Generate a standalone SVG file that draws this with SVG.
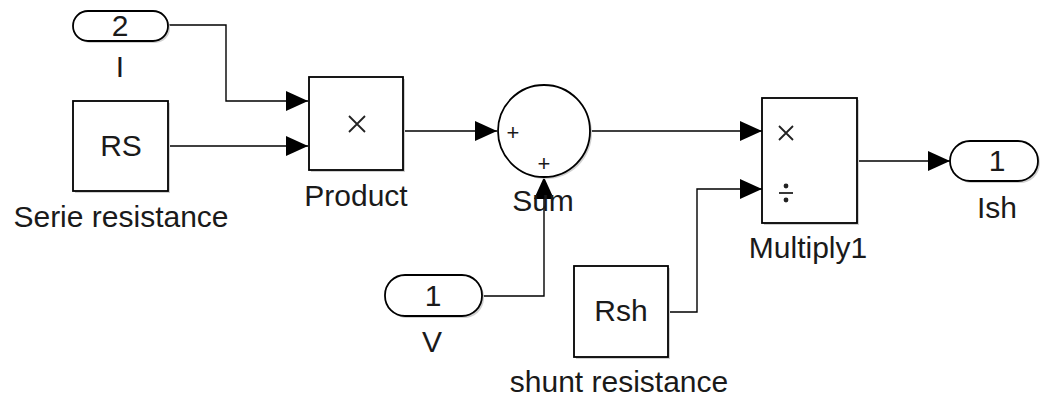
<svg xmlns="http://www.w3.org/2000/svg" width="1041" height="398" viewBox="0 0 1041 398">
<style>
.blk{fill:#fff;stroke:#000;stroke-width:1.8}
.sh{fill:#d0d0d0}
.ln{fill:none;stroke:#000;stroke-width:1.4}
.t{font-family:"Liberation Sans",Arial,sans-serif;font-size:30px;fill:#1a1a1a;text-anchor:middle}
.s{font-family:"Liberation Sans",Arial,sans-serif;font-size:22px;fill:#1a1a1a;text-anchor:middle}
.ic{fill:none;stroke:#222;stroke-width:1.8}
</style>
<defs>
<marker id="ah" markerWidth="22" markerHeight="20" refX="22" refY="10" orient="auto" markerUnits="userSpaceOnUse">
<path d="M0,0 L22,10 L0,20 Z" fill="#000"/>
</marker>
</defs>
<rect width="1041" height="398" fill="#fff"/>
<g id="connectors">
<polyline class="ln" points="168,25 226,25 226,101 308,101" marker-end="url(#ah)"/>
<polyline class="ln" points="168,146 308,146" marker-end="url(#ah)"/>
<polyline class="ln" points="403,131 497,131" marker-end="url(#ah)"/>
<polyline class="ln" points="483,296 544,296 544,177" marker-end="url(#ah)"/>
<polyline class="ln" points="591,131 762,131" marker-end="url(#ah)"/>
<polyline class="ln" points="668,312 697,312 697,189 762,189" marker-end="url(#ah)"/>
<polyline class="ln" points="857,161 950,161" marker-end="url(#ah)"/>
</g>
<g id="in2">
<rect class="sh" x="75" y="13" width="95" height="30" rx="15"/>
<rect class="blk" x="73" y="11" width="95" height="30" rx="15"/>
<text class="t" x="120" y="36">2</text>
<text class="t" x="120" y="77">I</text>
</g>
<g id="rs">
<rect class="sh" x="75" y="103" width="95" height="90"/>
<rect class="blk" x="73" y="101" width="95" height="90"/>
<text class="t" x="121" y="156">RS</text>
<text class="t" x="121" y="227">Serie resistance</text>
</g>
<g id="product">
<rect class="sh" x="311" y="79" width="94" height="93"/>
<rect class="blk" x="309" y="77" width="94" height="93"/>
<path class="ic" d="M349,116 L365,132 M365,116 L349,132"/>
<text class="t" x="356" y="206">Product</text>
</g>
<g id="sum">
<circle class="sh" cx="546" cy="133" r="46"/>
<circle class="blk" cx="544" cy="131" r="46"/>
<text class="s" x="513" y="140">+</text>
<text class="s" x="544" y="171">+</text>
<text class="t" x="543" y="211">Sum</text>
</g>
<g id="v">
<rect class="sh" x="387" y="277" width="97" height="41" rx="20"/>
<rect class="blk" x="385" y="275" width="97" height="41" rx="20"/>
<text class="t" x="433" y="306">1</text>
<text class="t" x="432" y="352">V</text>
</g>
<g id="rsh">
<rect class="sh" x="576" y="268" width="94" height="91"/>
<rect class="blk" x="574" y="266" width="94" height="91"/>
<text class="t" x="621" y="321">Rsh</text>
<text class="t" x="619" y="392">shunt resistance</text>
</g>
<g id="multiply1">
<rect class="sh" x="764" y="100" width="95" height="125"/>
<rect class="blk" x="762" y="98" width="95" height="125"/>
<path class="ic" d="M779,126 L793,140 M793,126 L779,140"/>
<path class="ic" d="M779,193 L793,193"/>
<circle cx="786" cy="186" r="2.4" fill="#222"/>
<circle cx="786" cy="200" r="2.4" fill="#222"/>
<text class="t" x="808" y="258">Multiply1</text>
</g>
<g id="ish">
<rect class="sh" x="952" y="143" width="88" height="40" rx="20"/>
<rect class="blk" x="950" y="141" width="88" height="40" rx="20"/>
<text class="t" x="997" y="171">1</text>
<text class="t" x="997" y="218">Ish</text>
</g>
</svg>
